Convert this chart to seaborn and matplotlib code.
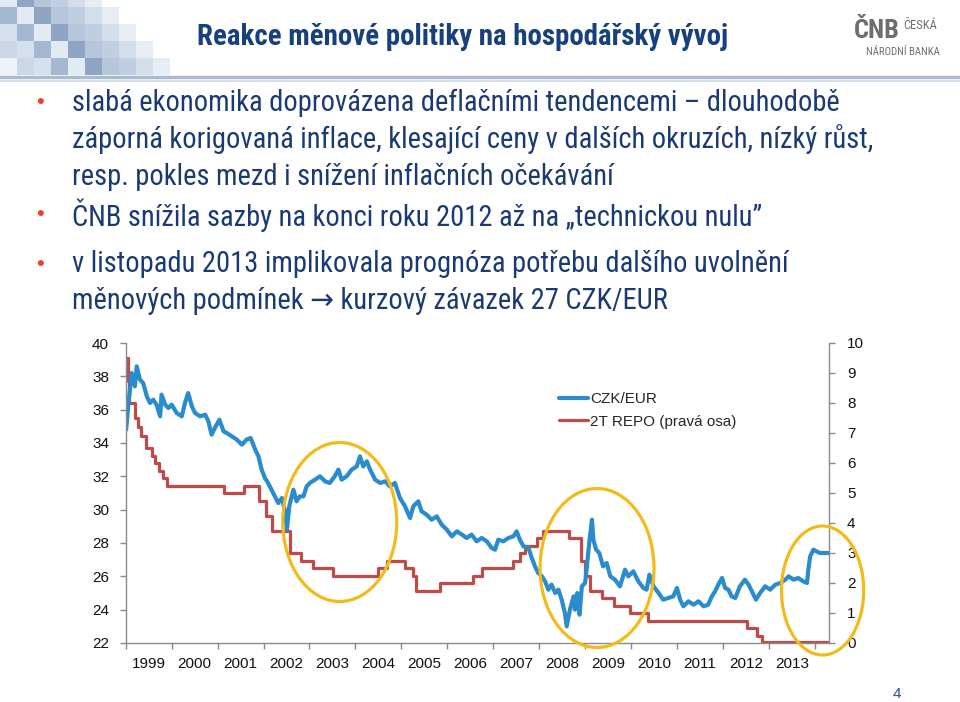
import numpy as np
import pandas as pd
import matplotlib
matplotlib.use("Agg")
import matplotlib.pyplot as plt
import seaborn as sns
from matplotlib.patches import Ellipse, Rectangle
from matplotlib.lines import Line2D
from matplotlib import font_manager as fm

# ---------------- data ----------------
czk_t = [1999.01, 1999.06, 1999.13, 1999.20, 1999.24, 1999.31, 1999.38, 1999.46, 1999.53, 1999.60,
         1999.67, 1999.75, 1999.78, 1999.86, 1999.93, 2000.00, 2000.11, 2000.22, 2000.29, 2000.36,
         2000.44, 2000.51, 2000.62, 2000.73, 2000.80, 2000.87, 2000.94, 2001.04, 2001.13, 2001.20,
         2001.31, 2001.42, 2001.53, 2001.63, 2001.72, 2001.82, 2001.89, 2001.96, 2002.03, 2002.10,
         2002.21, 2002.32, 2002.40, 2002.47, 2002.51, 2002.56, 2002.65, 2002.72, 2002.79, 2002.87,
         2002.94, 2003.01, 2003.12, 2003.23, 2003.34, 2003.44, 2003.55, 2003.63, 2003.70, 2003.81,
         2003.92, 2004.03, 2004.10, 2004.17, 2004.25, 2004.32, 2004.43, 2004.54, 2004.65, 2004.75,
         2004.86, 2004.97, 2005.08, 2005.19, 2005.26, 2005.37, 2005.44, 2005.55, 2005.66, 2005.77,
         2005.88, 2005.99, 2006.10, 2006.21, 2006.32, 2006.42, 2006.53, 2006.64, 2006.75, 2006.86,
         2006.97, 2007.04, 2007.11, 2007.22, 2007.33, 2007.44, 2007.51, 2007.58, 2007.66, 2007.77,
         2007.84, 2007.91, 2007.98, 2008.06, 2008.13, 2008.20, 2008.27, 2008.35, 2008.42, 2008.49,
         2008.56, 2008.60, 2008.67, 2008.75, 2008.78, 2008.83, 2008.88, 2008.93, 2009.00, 2009.04,
         2009.09, 2009.15, 2009.18, 2009.24, 2009.31, 2009.39, 2009.47, 2009.55, 2009.65, 2009.76,
         2009.87, 2009.94, 2010.05, 2010.16, 2010.27, 2010.34, 2010.40, 2010.49, 2010.60, 2010.70,
         2010.81, 2010.92, 2011.00, 2011.07, 2011.14, 2011.25, 2011.36, 2011.47, 2011.58, 2011.68,
         2011.76, 2011.83, 2011.90, 2011.98, 2012.05, 2012.12, 2012.19, 2012.27, 2012.37, 2012.48,
         2012.56, 2012.63, 2012.72, 2012.81, 2012.92, 2013.03, 2013.14, 2013.25, 2013.36, 2013.43,
         2013.54, 2013.64, 2013.75, 2013.83, 2013.86, 2013.90, 2013.97, 2014.04, 2014.11, 2014.23,
         2014.30]
czk_v = [34.8, 36.4, 38.2, 37.4, 38.6, 37.8, 37.6, 36.8, 36.4, 36.6,
         36.3, 35.6, 36.9, 36.3, 36.1, 36.3, 35.8, 35.6, 36.4, 37.0,
         36.2, 35.8, 35.6, 35.7, 35.3, 34.5, 34.9, 35.4, 34.7, 34.6,
         34.4, 34.2, 33.9, 34.2, 34.3, 33.6, 33.2, 32.4, 31.9, 31.6,
         31.0, 30.4, 30.7, 29.9, 28.8, 30.2, 31.2, 30.5, 30.8, 30.8,
         31.4, 31.6, 31.8, 32.0, 31.7, 31.6, 32.0, 32.4, 31.8, 32.0,
         32.4, 32.6, 33.2, 32.6, 32.9, 32.4, 31.8, 31.6, 31.7, 31.4,
         31.6, 30.7, 30.2, 29.5, 30.2, 30.5, 29.9, 29.7, 29.4, 29.6,
         29.1, 28.8, 28.4, 28.7, 28.5, 28.3, 28.5, 28.1, 28.3, 28.1,
         27.7, 27.6, 28.2, 28.1, 28.3, 28.4, 28.7, 28.2, 27.8, 27.7,
         27.1, 26.6, 26.2, 26.0, 25.7, 25.2, 25.5, 25.0, 25.2, 24.6,
         23.8, 23.0, 24.0, 24.8, 24.0, 25.0, 23.7, 25.4, 25.6, 26.6,
         28.0, 29.4, 28.2, 27.6, 27.4, 26.6, 26.8, 26.0, 25.8, 25.4,
         26.4, 26.0, 26.3, 25.7, 25.3, 25.2, 26.1, 25.4, 25.0, 24.6,
         24.7, 24.8, 25.3, 24.6, 24.2, 24.5, 24.3, 24.5, 24.2, 24.3,
         24.8, 25.1, 25.5, 25.9, 25.3, 25.2, 24.8, 24.7, 25.4, 25.8,
         25.5, 25.1, 24.6, 25.0, 25.4, 25.2, 25.5, 25.6, 25.8, 26.0,
         25.8, 25.9, 25.7, 25.6, 26.4, 27.2, 27.6, 27.5, 27.4, 27.4,
         27.4]

repo_t = [1999.00, 1999.04, 1999.07, 1999.20, 1999.27, 1999.33, 1999.44, 1999.57, 1999.64, 1999.73,
          1999.81, 1999.89, 2001.14, 2001.58, 2001.91, 2002.05, 2002.18, 2002.58, 2002.82, 2003.08,
          2003.51, 2004.50, 2004.68, 2005.08, 2005.26, 2005.32, 2005.84, 2006.57, 2006.75, 2007.44,
          2007.58, 2007.69, 2007.95, 2008.09, 2008.64, 2008.91, 2009.00, 2009.11, 2009.36, 2009.62,
          2009.98, 2010.38, 2012.52, 2012.74, 2012.85, 2014.31]
repo_v = [9.50, 8.75, 8.00, 7.50, 7.20, 6.90, 6.50, 6.25, 6.00, 5.75,
          5.50, 5.25, 5.00, 5.25, 4.75, 4.25, 3.75, 3.00, 2.75, 2.50,
          2.25, 2.50, 2.75, 2.50, 2.25, 1.75, 2.00, 2.25, 2.50, 2.75,
          3.00, 3.25, 3.50, 3.75, 3.50, 2.75, 2.25, 1.75, 1.50, 1.25,
          1.00, 0.75, 0.50, 0.25, 0.05, 0.05]

years = list(range(1999, 2014))
left_ticks = [22, 24, 26, 28, 30, 32, 34, 36, 38, 40]
right_ticks = [0, 1, 2, 3, 4, 5, 6, 7, 8, 9, 10]

title = "Reakce měnové politiky na hospodářský vývoj"
bullets = [
    ["slabá ekonomika doprovázena deflačními tendencemi – dlouhodobě",
     "záporná korigovaná inflace, klesající ceny v dalších okruzích, nízký růst,",
     "resp. pokles mezd i snížení inflačních očekávání"],
    ["ČNB snížila sazby na konci roku 2012 až na „technickou nulu”"],
    ["v listopadu 2013 implikovala prognóza potřebu dalšího uvolnění",
     "měnových podmínek → kurzový závazek 27 CZK/EUR"],
]
series_names = ["CZK/EUR", "2T REPO (pravá osa)"]

# ---------------- fonts ----------------
sns.set_theme(style="white")
plt.rcParams["font.family"] = ["Liberation Sans", "DejaVu Sans"]

_installed = {}
for f in fm.fontManager.ttflist:
    _installed.setdefault(f.name, set()).add(f.weight if isinstance(f.weight, int) else 400)

def pick(cands, need_bold=False):
    for c in cands:
        if c in _installed:
            if not need_bold or any(w >= 600 for w in _installed[c]):
                return c
    return "Liberation Sans"

BODY = pick(["Roboto Condensed", "PT Sans Narrow", "Archivo Narrow", "Asap Condensed",
             "Barlow Semi Condensed"])
BOLD = pick(["Roboto Condensed", "PT Sans Narrow", "Asap Condensed", "Barlow Semi Condensed"],
            need_bold=True)
BODY_FAM = [BODY, "DejaVu Sans"]
BOLD_FAM = [BOLD, "DejaVu Sans"]

W, H = 960, 702
fig = plt.figure(figsize=(W / 100, H / 100), dpi=100)
fig.patch.set_facecolor("white")
renderer = fig.canvas.get_renderer()

def fx(x):
    return x / W

def fy(y):
    return 1 - y / H

def fit(t, target_px):
    bb = t.get_window_extent(renderer)
    t.set_fontsize(t.get_fontsize() * target_px / bb.width)
    return t.get_fontsize()

# decorative mosaic top-left
pal = ["#e3eaf2", "#cbd7e6", "#b6c7dc", "#a4b8d1", "#eef2f7", "#8ea5c4", "#d6e0ec", "#bfcee1"]
cell = 17
for r in range(5):
    ncols = 6 + r
    for c in range(ncols):
        col = pal[(r * 3 + c * 5) % len(pal)]
        if c >= ncols - 2:
            col = "#e6edf4" if (r + c) % 2 else "#d3deea"
        fig.add_artist(Rectangle((fx(c * cell), fy((r + 1) * cell - 10)), fx(cell), cell / H,
                                 transform=fig.transFigure, facecolor=col, edgecolor="none"))

# separator lines
fig.add_artist(Line2D([0, 1], [fy(77), fy(77)], transform=fig.transFigure, color="#a9bccf", lw=2.5))
fig.add_artist(Line2D([0, 1], [fy(81), fy(81)], transform=fig.transFigure, color="#d5e0ea", lw=1.5))

# title
t = fig.text(fx(197), fy(37), title, fontsize=20, fontweight="bold", color="#17407c",
             va="center", ha="left", family=BOLD_FAM)
fit(t, 530)

# logo
t = fig.text(fx(854), fy(38), "ČNB", fontsize=20, color="#6e6e6e", va="baseline", ha="left",
             family=BOLD_FAM, fontweight="bold")
fit(t, 46)
t = fig.text(fx(903), fy(29), "ČESKÁ", fontsize=7, color="#6e6e6e", va="baseline", ha="left",
             family=BODY_FAM)
fit(t, 34)
t = fig.text(fx(866), fy(47), "NÁRODNÍ BANKA", fontsize=7, color="#6e6e6e", va="top",
             ha="left", family=BODY_FAM)
fit(t, 74)

# bullets
line_y = [[103, 139, 177], [215], [264, 301]]
probe = fig.text(fx(72), fy(103), bullets[0][0], fontsize=20, family=BODY_FAM)
size = fit(probe, 766)
probe.remove()
for lines, ys in zip(bullets, line_y):
    fig.text(fx(40), fy(ys[0]), "•", fontsize=16, color="#e8412c", va="center", ha="center")
    for txt, y in zip(lines, ys):
        fig.text(fx(72), fy(y), txt, fontsize=size, color="#1a3a73", va="center", ha="left",
                 family=BODY_FAM)

# page number
fig.text(fx(897), fy(694), "4", fontsize=11, color="#1f4e8c", va="center", ha="center")

# ---------------- chart ----------------
x0, x1, ytop, ybot = 125.7, 829.0, 343.0, 643.0
ax = fig.add_axes([fx(x0), fy(ybot), (x1 - x0) / W, (ybot - ytop) / H])
ax2 = ax.twinx()

blue = "#2a8ccc"
red = "#be4b48"
sns.lineplot(x=repo_t, y=repo_v, ax=ax2, color=red, lw=2.3, drawstyle="steps-post",
             legend=False, estimator=None, sort=False)
sns.lineplot(x=czk_t, y=czk_v, ax=ax, color=blue, lw=3.0, legend=False, estimator=None, sort=False)

ax.set_zorder(ax2.get_zorder() + 1)
ax.patch.set_visible(False)

ax.set_xlim(1999, 2014.31)
ax.set_ylim(22, 40)
ax2.set_ylim(0, 10)
ax.set_yticks(left_ticks)
ax.set_yticklabels([str(v) for v in left_ticks])
ax2.set_yticks(right_ticks)
ax2.set_yticklabels([str(v) for v in right_ticks])

ax.set_xticks(list(range(1999, 2015)))
ax.set_xticklabels([])
ax.set_xticks([y + 0.5 for y in years], minor=True)
ax.set_xticklabels([str(y) for y in years], minor=True)

spine_col = "#8a8a8a"
for a in (ax, ax2):
    for s in a.spines.values():
        s.set_visible(False)
ax.spines["left"].set_visible(True)
ax.spines["bottom"].set_visible(True)
ax2.spines["right"].set_visible(True)
for s in (ax.spines["left"], ax.spines["bottom"], ax2.spines["right"]):
    s.set_color(spine_col)
    s.set_linewidth(1.0)

ax.tick_params(axis="y", which="major", left=True, length=4, width=1, color=spine_col,
               labelsize=11, pad=8, labelcolor="#111111")
ax.tick_params(axis="x", which="major", bottom=True, length=4, width=1, color=spine_col)
ax.tick_params(axis="x", which="minor", bottom=True, length=0, labelsize=11, pad=10,
               labelcolor="#111111")
ax2.tick_params(axis="y", right=True, length=4, width=1, color=spine_col, labelsize=11, pad=9,
                labelcolor="#111111")
ax.set_xlabel("")
ax.set_ylabel("")
ax2.set_ylabel("")
ax.grid(False)
ax2.grid(False)

# highlight ellipses (annotations, left-axis data units)
gold = "#f2bb1b"
for (cx, cy, w, h) in [(2003.66, 29.26, 2.48, 9.54), (2009.26, 26.5, 2.48, 9.54),
                       (2014.17, 25.15, 1.79, 7.74)]:
    ax.add_patch(Ellipse((cx, cy), w, h, fill=False, edgecolor=gold, lw=2.3, clip_on=False,
                         zorder=5))

# legend
handles = [Line2D([], [], color=blue, lw=3.0), Line2D([], [], color=red, lw=2.3)]
ax.legend(handles, series_names, loc="upper left", bbox_to_anchor=(fx(553), fy(386)),
          bbox_transform=fig.transFigure, frameon=False, fontsize=11, handlelength=1.9,
          handletextpad=0.15, labelspacing=0.55, borderaxespad=0)

fig.savefig("out.png", dpi=100)
